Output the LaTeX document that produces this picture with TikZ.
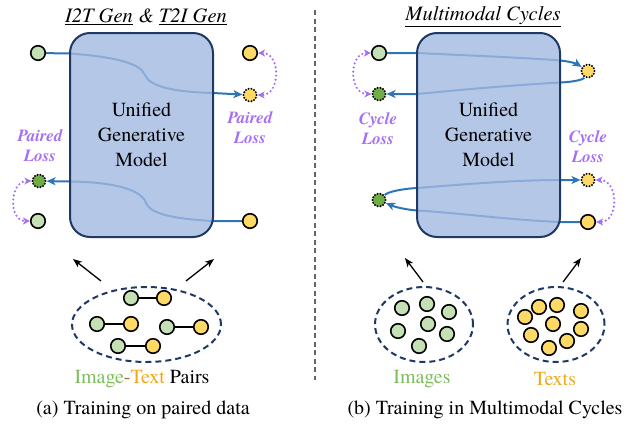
\documentclass[tikz,border=0pt]{standalone}
\usepackage{fontspec}
\setmainfont{texgyretermes}[Extension=.otf, UprightFont=*-regular, BoldFont=*-bold, ItalicFont=*-italic, BoldItalicFont=*-bolditalic]
\usetikzlibrary{arrows.meta,shapes.geometric}
\definecolor{boxfill}{RGB}{161,185,225}
\definecolor{boxdraw}{RGB}{31,56,100}
\definecolor{flow}{RGB}{46,117,182}
\definecolor{gfill}{RGB}{197,224,180}
\definecolor{gdark}{RGB}{112,173,71}
\definecolor{yfill}{RGB}{255,217,102}
\definecolor{losscol}{RGB}{165,110,245}
\definecolor{gtext}{RGB}{125,190,90}
\definecolor{ytext}{RGB}{240,168,24}
\definecolor{hyph}{RGB}{150,110,50}
\definecolor{sepcol}{RGB}{100,100,100}
\tikzset{
  img/.style={circle, draw=black, fill=gfill, line width=1.6pt, minimum size=14.5pt, inner sep=0pt},
  txt/.style={circle, draw=black, fill=yfill, line width=1.6pt, minimum size=14.5pt, inner sep=0pt},
  genimg/.style={circle, draw=black, fill=gdark, line width=2.2pt, line cap=round, dash pattern=on 0pt off 2.9pt, minimum size=13pt, inner sep=0pt},
  gentxt/.style={genimg, fill=yfill},
  model/.style={draw=boxdraw, line width=2pt, fill=boxfill, fill opacity=0.8, text opacity=1, rounded corners=20pt, minimum width=143pt, minimum height=204pt, align=center, font=\fontsize{20}{25}\selectfont},
  flowline/.style={draw=flow, line width=2pt, -{Stealth[length=9pt,width=8pt,inset=2.5pt]}},
  lossarrow/.style={draw=losscol, line width=2.4pt, line cap=round, dash pattern=on 0pt off 4.2pt, {Stealth[length=7pt,width=7pt,inset=2pt]}-{Stealth[length=7pt,width=7pt,inset=2pt]}},
  losslabel/.style={text=losscol, font=\fontsize{17}{20}\selectfont\bfseries\itshape, align=center},
  pool/.style={ellipse, draw=boxdraw, line width=2pt, dash pattern=on 6pt off 4pt, inner sep=0pt},
  pairline/.style={draw=black, line width=1.6pt},
  feed/.style={draw=black, line width=1.3pt, -{Stealth[length=9pt,width=7pt,inset=2.5pt]}},
  lbl/.style={font=\fontsize{20}{24}\selectfont},
  titlelbl/.style={font=\fontsize{20.5}{24}\selectfont\itshape},
}
\begin{document}
\begin{tikzpicture}[x=1pt,y=-1pt]
\useasboundingbox (0,0) rectangle (636,423);

% ---------------- left panel ----------------
\node[titlelbl] (t1) at (146,17) {\underline{I2T Gen} \& \underline{T2I Gen}};
\node[img] (g1) at (38,53) {};
\node[txt] (y1) at (250,53) {};
\node[gentxt] (y1g) at (250,95) {};
\node[genimg] (g2g) at (39,181) {};
\node[img] (g2) at (38,221) {};
\node[txt] (y2) at (250,221) {};

\draw[flowline] (g1) -- (70,53.5) .. controls (115,57) and (140,63) .. (145,75) .. controls (150,87) and (175,92) .. (213,93) -- (y1g);
\draw[flowline] (y2) -- (213,221) .. controls (175,219) and (150,214) .. (146,203) .. controls (142,190) and (115,182) .. (70,181.5) -- (g2g);

\node[model] (m1) at (141.5,135) {Unified\\Generative\\Model};

\draw[lossarrow] (y1) to[out=0,in=0,looseness=1.4] (y1g);
\draw[lossarrow] (g2g) to[out=180,in=180,looseness=1.4] (g2);
\node[losslabel] (pl1) at (250,128) {Paired\\Loss};
\node[losslabel] (pl2) at (40,146) {Paired\\Loss};

% ---------------- right panel ----------------
\node[titlelbl] (t2) at (483,17) {\underline{Multimodal Cycles}};
\node[img] (g3) at (379,53) {};
\node[genimg] (g3g) at (379,94) {};
\node[gentxt] (y3g) at (588,71) {};
\node[gentxt] (y4g) at (588,180) {};
\node[genimg] (g4g) at (379,200) {};
\node[txt] (y4) at (588,222) {};

\draw[flowline] (g3) -- (417,53) .. controls (480,56) and (530,58) .. (560,60.5) .. controls (571,61.5) and (577,64) .. (y3g);
\draw[flowline] (y3g) .. controls (583,80) and (572,82) .. (560,82.5) .. controls (500,86) and (460,90) .. (417,94) -- (g3g);
\draw[flowline] (g4g) .. controls (388,192) and (400,189) .. (417,188) .. controls (480,183) and (520,180) .. (560,180) -- (y4g);
\draw[flowline] (y4) -- (560,222) .. controls (510,220) and (460,213) .. (417,210.5) .. controls (405,209.5) and (395,207) .. (g4g);

\node[model] (m2) at (488.5,135) {Unified\\Generative\\Model};

\draw[lossarrow] (g3) to[out=180,in=180,looseness=1.4] (g3g);
\draw[lossarrow] (y4g) to[out=0,in=0,looseness=1.4] (y4);
\node[losslabel] (cl1) at (378,129) {Cycle\\Loss};
\node[losslabel] (cl2) at (588,146.5) {Cycle\\Loss};

% ---------------- separator ----------------
\coordinate (s1) at (315,10);
\coordinate (s2) at (315,380);
\draw[draw=sepcol, line width=1.3pt, dash pattern=on 5pt off 3.5pt] (s1) -- (s2);

% ---------------- bottom left: pairs ----------------
\node[pool, minimum width=149pt, minimum height=75pt] (pairs) at (146.5,324.5) {};
\node[img] (p1a) at (131,298) {};
\node[txt] (p1b) at (164,298) {};
\node[img] (p2a) at (97,324) {};
\node[txt] (p2b) at (131,324) {};
\node[img] (p3a) at (167,327) {};
\node[txt] (p3b) at (201,327) {};
\node[img] (p4a) at (118,346) {};
\node[txt] (p4b) at (153,346) {};
\draw[pairline] (p1a) -- (p1b);
\draw[pairline] (p2a) -- (p2b);
\draw[pairline] (p3a) -- (p3b);
\draw[pairline] (p4a) -- (p4b);

\coordinate (f1s) at (101,281); \coordinate (f1e) at (73,259);
\coordinate (f2s) at (186,281); \coordinate (f2e) at (214,259);
\draw[feed] (f1s) -- (f1e);
\draw[feed] (f2s) -- (f2e);

\node[lbl] (pairlbl) at (142,379) {\textcolor{gtext}{Image}\textcolor{hyph}{-}\textcolor{ytext}{Text} Pairs};
\node[lbl] (capa) at (143,410) {(a) Training on paired data};

% ---------------- bottom right: unpaired ----------------
\node[pool, minimum width=98pt, minimum height=75pt] (imgs) at (424,324.5) {};
\node[img] (i1) at (402,308) {};
\node[img] (i2) at (427,304) {};
\node[img] (i3) at (449,312) {};
\node[img] (i4) at (428,324) {};
\node[img] (i5) at (398,331) {};
\node[img] (i6) at (447,334) {};
\node[img] (i7) at (419,346) {};

\node[pool, minimum width=97pt, minimum height=75pt] (txts) at (556,324.5) {};
\node[txt] (x1) at (525,317) {};
\node[txt] (x2) at (539,307) {};
\node[txt] (x3) at (557,305) {};
\node[txt] (x4) at (581,311) {};
\node[txt] (x5) at (553,324) {};
\node[txt] (x6) at (581,329) {};
\node[txt] (x7) at (531,335) {};
\node[txt] (x8) at (567,341) {};
\node[txt] (x9) at (549,348) {};

\coordinate (f3s) at (423,282); \coordinate (f3e) at (405,258);
\coordinate (f4s) at (563,282); \coordinate (f4e) at (581,258);
\draw[feed] (f3s) -- (f3e);
\draw[feed] (f4s) -- (f4e);

\node[lbl, text=gtext] (imglbl) at (422,379) {Images};
\node[lbl, text=ytext] (txtlbl) at (555,379) {Texts};
\node[lbl] (capb) at (485,410) {(b) Training in Multimodal Cycles};
\end{tikzpicture}
\end{document}
